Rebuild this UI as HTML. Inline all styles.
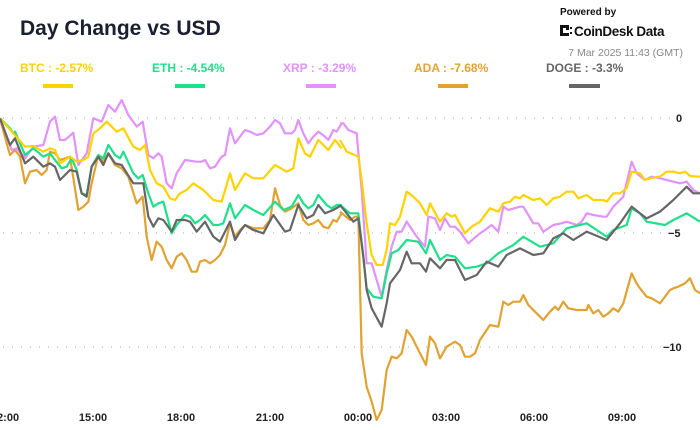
<!DOCTYPE html>
<html><head><meta charset="utf-8"><style>
html,body{margin:0;padding:0;background:#fff;}
body{width:700px;height:430px;overflow:hidden;position:relative;font-family:"Liberation Sans",sans-serif;}
</style></head><body>
<svg width="700" height="430" viewBox="0 0 700 430" xmlns="http://www.w3.org/2000/svg" style="position:absolute;left:0;top:0">
<text x="20" y="35" font-size="21" font-weight="bold" fill="#1a2030">Day Change vs USD</text>
<text x="560" y="15" font-size="10" font-weight="bold" fill="#111">Powered by</text>
<g fill="#111"><rect x="560" y="25" width="3" height="11"/><rect x="563" y="25" width="6" height="3"/><rect x="563" y="33" width="6" height="3"/><rect x="566" y="28" width="3" height="2"/><rect x="570" y="27" width="2" height="2"/><rect x="570" y="32" width="2" height="2"/></g>
<text x="574" y="36" font-size="13.5" font-weight="bold" fill="#111" letter-spacing="-0.4">CoinDesk Data</text>
<text x="683" y="56" font-size="10.5" fill="#888" text-anchor="end">7 Mar 2025 11:43 (GMT)</text>
<g font-size="12" font-weight="bold">
<text x="20" y="72" fill="#FFD200">BTC : -2.57%</text>
<text x="152" y="72" fill="#1EE08A">ETH : -4.54%</text>
<text x="283" y="72" fill="#E292FA">XRP : -3.29%</text>
<text x="414" y="72" fill="#E2A232">ADA : -7.68%</text>
<text x="546" y="72" fill="#666">DOGE : -3.3%</text>
</g>
<rect x="43" y="84" width="30" height="4" fill="#FFD200"/>
<rect x="175" y="84" width="30" height="4" fill="#1EE08A"/>
<rect x="306" y="84" width="30" height="4" fill="#E292FA"/>
<rect x="438" y="84" width="30" height="4" fill="#E2A232"/>
<rect x="569" y="84" width="31" height="4" fill="#666"/>
<g stroke="#aaa" stroke-width="1" stroke-dasharray="1,8">
<line x1="3" y1="118" x2="672" y2="118"/><line x1="3" y1="233" x2="672" y2="233"/><line x1="3" y1="347" x2="672" y2="347"/>
</g>
<g font-size="11" font-weight="bold" fill="#222">
<text x="676" y="122">0</text><text x="668" y="237">−5</text><text x="663" y="351">−10</text>
</g>
<g font-size="11" font-weight="bold" fill="#222" text-anchor="middle">
<text x="5" y="421">12:00</text><text x="93" y="421">15:00</text><text x="181" y="421">18:00</text><text x="270" y="421">21:00</text><text x="358" y="421">00:00</text><text x="446" y="421">03:00</text><text x="534" y="421">06:00</text><text x="622" y="421">09:00</text>
</g>
<g fill="none" stroke-width="2.2" stroke-linejoin="round">
<g transform="translate(0,90) scale(0.33333)">
<polyline vector-effect="non-scaling-stroke" stroke="#E2A232" points="0,85 20,160 30,195 45,180 60,200 75,280 90,245 110,240 125,255 140,240 150,185 165,190 180,210 210,200 235,360 250,350 265,335 275,280 295,195 310,215 325,190 345,225 365,235 385,260 410,340 428,320 440,440 455,510 470,455 485,470 500,510 515,535 530,500 545,490 560,510 575,545 590,545 600,515 615,510 630,520 645,510 660,495 675,465 690,400 705,440 720,420 735,405 760,415 790,415 810,390 825,295 840,345 855,365 875,355 895,340 910,390 925,405 940,400 955,390 970,410 985,415 1000,390 1010,395 1025,370"/>
<polyline vector-effect="non-scaling-stroke" stroke="#E292FA" points="0,85 35,180 50,175 75,205 100,170 130,165 150,95 165,80 180,150 195,150 220,128 235,225 260,190 280,85 305,95 325,45 345,65 365,30 385,75 410,110 428,95 445,195 460,205 475,190 485,200 500,280 515,295 530,250 555,210 590,215 605,215 615,210 630,235 645,230 665,200 675,195 690,115 705,160 735,120 750,125 770,135 790,130 810,110 825,90 840,100 855,130 875,130 885,120 895,90 910,130 925,160 940,140 955,125 975,140 985,150 1000,120 1010,125 1025,100"/>
<polyline vector-effect="non-scaling-stroke" stroke="#1EE08A" points="0,85 30,115 40,130 45,125 60,160 75,195 100,175 130,200 150,190 165,210 185,235 200,230 215,205 230,240 245,310 260,315 275,230 295,195 310,205 325,165 345,195 360,205 370,185 400,250 415,265 428,255 445,310 460,350 475,340 490,335 515,430 530,405 555,375 570,380 585,400 600,390 615,375 640,405 655,405 670,400 690,340 705,385 735,345 760,360 790,375 825,335 850,360 875,350 895,315 910,340 925,355 940,345 955,315 980,345 995,355 1010,345 1025,345"/>
<polyline vector-effect="non-scaling-stroke" stroke="#FFD200" points="0,85 40,130 75,170 100,168 130,185 150,175 165,180 180,220 210,200 230,215 250,210 265,200 280,130 300,115 320,95 350,125 370,115 400,170 420,180 435,165 450,240 470,280 490,290 510,325 525,330 540,310 560,300 580,280 610,300 640,330 665,335 690,250 705,300 735,250 760,265 790,265 825,225 860,245 880,235 895,145 915,190 930,200 955,150 985,180 1005,150 1025,175"/>
<polyline vector-effect="non-scaling-stroke" stroke="#666" points="0,85 30,165 45,145 75,220 100,200 130,230 150,220 165,230 180,270 210,240 230,245 245,310 260,320 275,230 295,200 310,225 325,190 345,220 365,225 400,280 430,280 445,380 460,410 475,385 490,390 515,425 530,390 555,390 570,395 590,425 615,395 640,440 660,455 690,395 705,450 720,425 735,405 760,420 790,430 820,375 855,425 870,420 895,345 920,385 940,375 955,345 975,370 1000,360 1025,345"/>
</g>
<g transform="translate(340,90) scale(0.33333)">
<polyline vector-effect="non-scaling-stroke" stroke="#E2A232" points="0,365 30,390 45,380 55,380 65,790 80,890 95,935 110,990 125,960 140,840 155,800 170,805 185,790 200,720 215,740 235,780 258,825 270,740 285,760 300,805 320,770 345,755 360,765 375,800 390,800 405,790 420,750 440,720 450,705 475,710 490,635 505,645 520,635 540,635 550,615 565,645 585,665 610,690 630,665 645,650 655,660 670,635 685,655 710,660 740,660 745,645 760,670 775,660 790,680 805,670 820,655 835,665 850,640 875,550 890,580 900,595 920,620 935,625 960,640 990,600 1000,595 1015,590 1035,580 1050,565 1065,600 1080,610"/>
<polyline vector-effect="non-scaling-stroke" stroke="#E292FA" points="0,100 10,100 25,120 50,130 65,300 80,520 95,520 125,620 140,540 155,470 170,425 185,425 200,395 230,440 255,470 265,380 285,385 300,420 315,385 330,410 345,410 360,425 385,460 420,430 435,420 455,405 475,425 490,350 505,360 540,350 550,350 580,400 595,400 610,425 640,405 665,400 680,395 710,405 725,395 740,370 760,375 790,380 800,380 820,350 850,320 875,215 890,250 915,270 935,260 960,265 1000,275 1020,280 1040,275 1060,300 1080,310"/>
<polyline vector-effect="non-scaling-stroke" stroke="#1EE08A" points="0,345 30,370 55,370 70,500 80,595 100,620 125,625 140,550 155,490 175,480 200,450 235,455 258,490 270,450 300,510 320,495 345,500 375,535 410,530 440,520 475,490 520,465 550,440 600,470 640,460 680,415 740,400 770,420 800,440 820,420 860,405 875,355 900,370 920,395 975,405 1000,390 1040,370 1080,395"/>
<polyline vector-effect="non-scaling-stroke" stroke="#FFD200" points="0,150 20,185 55,200 65,270 80,400 95,495 110,525 128,525 140,480 150,400 165,405 180,380 200,305 220,320 240,340 260,375 270,340 300,395 320,370 335,380 345,375 375,430 395,410 420,395 450,355 475,365 490,340 510,335 525,320 540,325 550,315 580,330 600,325 620,345 640,325 660,320 680,305 700,305 715,325 740,315 760,330 790,330 800,335 820,310 840,310 860,295 875,245 900,250 915,270 930,265 960,260 980,245 1000,245 1020,250 1035,245 1050,258 1080,260"/>
<polyline vector-effect="non-scaling-stroke" stroke="#666" points="0,345 40,395 55,385 70,500 80,600 95,655 125,710 140,640 150,580 180,540 200,485 215,520 240,520 258,545 270,505 300,535 320,510 345,510 375,570 410,555 440,515 475,530 500,495 540,475 580,495 610,490 640,445 670,430 700,450 740,425 800,450 840,400 875,350 900,370 920,385 960,365 1000,330 1040,290 1060,310 1080,310"/>
</g>
</g>
</svg>
</body></html>
